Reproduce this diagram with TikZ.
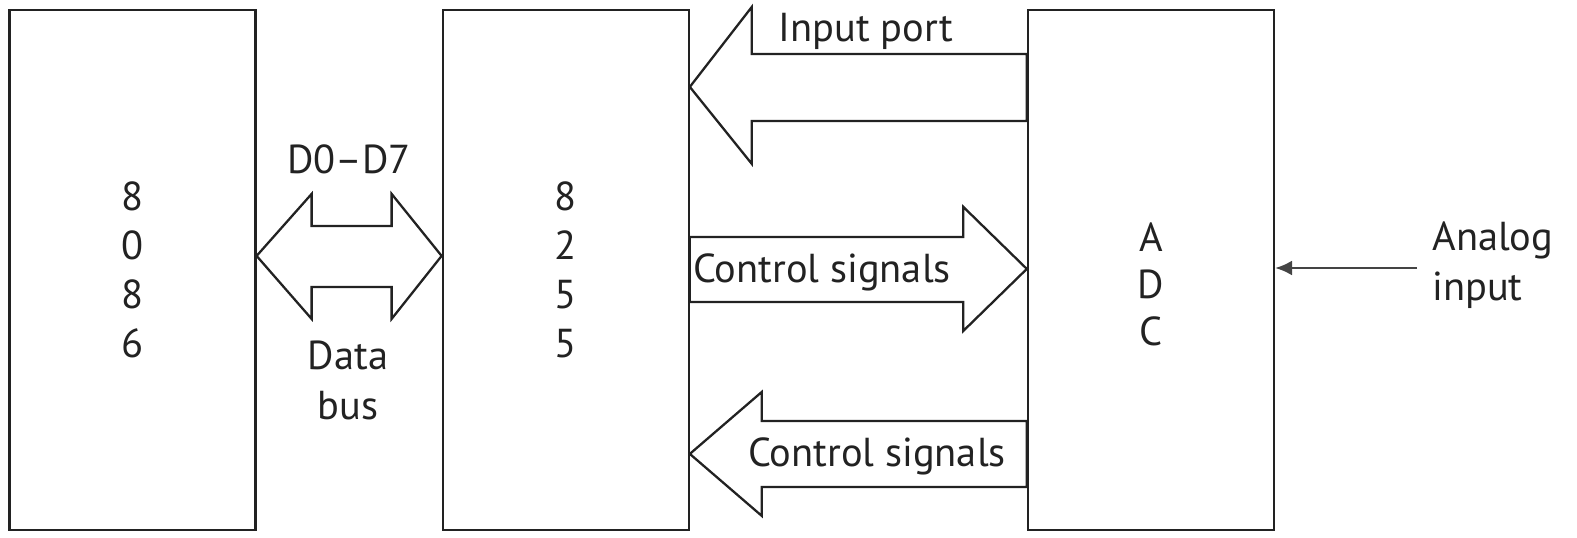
\documentclass[tikz,border=0pt]{standalone}
\usepackage{fontspec}
\setmainfont{PT Sans}
\usepackage{tikz}
\usetikzlibrary{
  arrows.meta,
  positioning,
  calc
}
\definecolor{inkgray}{HTML}{222222}
\definecolor{wiregray}{HTML}{444444}

\begin{document}
\begin{tikzpicture}[
  x=0.02cm, y=-0.02cm,
  chip/.style={
    draw=inkgray, line width=1.3pt, minimum width=4.92cm, minimum height=10.4cm,
    inner sep=0pt, align=center, text=inkgray, font=\fontsize{23}{27.9}\selectfont,
  },
  busarrow/.style={
    draw=inkgray, line width=1.3pt, fill=white, line join=miter,
  },
  lbl/.style={
    inner sep=0pt, text=inkgray, font=\fontsize{23}{28.4}\selectfont,
  },
]
\useasboundingbox (0,0) rectangle (1577,537);

% processor, PPI and converter
\node[chip] (cpu) at (132.5,270) {8\\0\\8\\6};
\node[chip, right=3.7cm of cpu] (ppi) {8\\2\\5\\5};
\node[chip, right=6.74cm of ppi] (adc) {};
\node[lbl, align=center, font=\fontsize{23}{26.7}\selectfont] (adcname) at ($(adc.center)+(0,14)$) {A\\D\\C};

% data bus D0--D7
\draw[busarrow] ($(cpu.north east)+(0,247)$) -- ++(55,-62) -- ++(0,32) -- ++(80,0) -- ++(0,-32)
  -- ++(50,62) -- ++(-50,63) -- ++(0,-32) -- ++(-80,0) -- ++(0,32) -- cycle;
\node[lbl] (busname) at (349,159) {D0–D7};
\node[lbl, align=center] (bustype) at (348,380) {Data\\bus};

% input port
\draw[busarrow] ($(ppi.north east)+(0,78)$) -- ++(62,-80) -- ++(0,47) -- ++(275,0) -- ++(0,67)
  -- ++(-275,0) -- ++(0,43) -- cycle;
\node[lbl] (inport) at (866,31) {Input port};

% control signals to ADC
\draw[busarrow] ($(ppi.north east)+(0,228)$) -- ++(273.5,0) -- ++(0,-30) -- ++(63.5,62)
  -- ++(-63.5,62) -- ++(0,-29) -- ++(-273.5,0) -- cycle;
\node[lbl] (ctrlout) at (822,272) {Control signals};

% control signals from ADC
\draw[busarrow] ($(ppi.north east)+(0,445)$) -- ++(72,-62) -- ++(0,29) -- ++(265,0) -- ++(0,66)
  -- ++(-265,0) -- ++(0,29) -- cycle;
\node[lbl] (ctrlin) at (877,456) {Control signals};

% analog input
\node[lbl, align=left, anchor=west] (analog) at (1432,265) {Analog\\input};
\coordinate (analogsrc) at (1417,268);
\draw[wiregray, line width=1.6pt, -{Latex[length=0.34cm,width=0.3cm]}] (analogsrc) -- (adc.east |- analogsrc);

\end{tikzpicture}
\end{document}
